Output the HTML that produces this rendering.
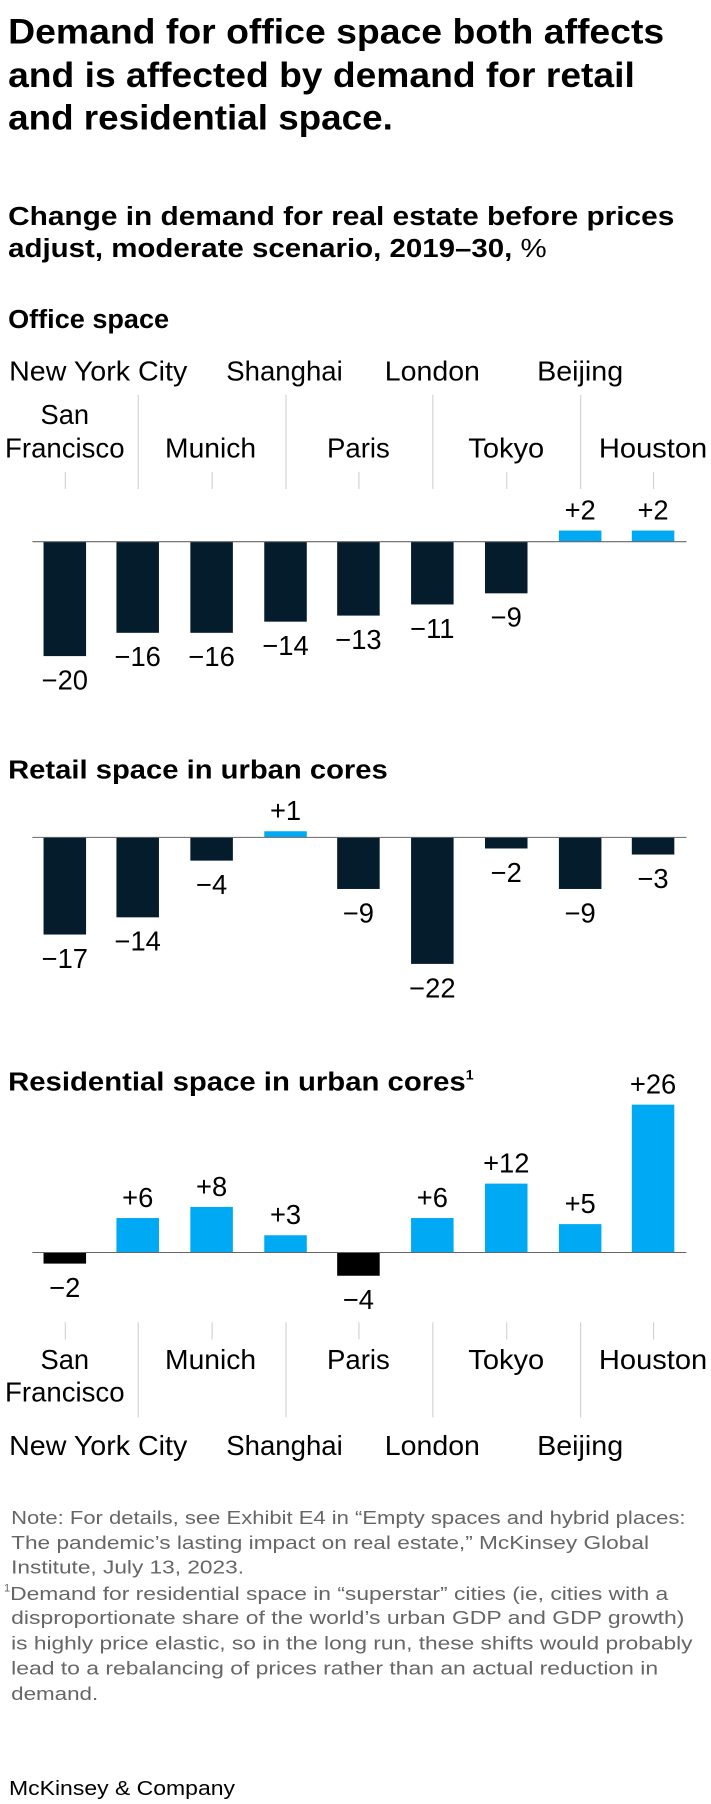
<!DOCTYPE html>
<html><head><meta charset="utf-8"><style>
html,body{margin:0;padding:0;background:#fff;}
svg{display:block;font-family:"Liberation Sans",sans-serif;}
.t{font-weight:bold;font-size:35px;fill:#000;}
.s{font-weight:bold;font-size:26px;fill:#000;}
.h{font-weight:bold;font-size:26px;fill:#000;}
.l{font-size:27px;fill:#000;}
.v{font-size:27px;fill:#000;text-anchor:middle;}
.n{font-size:18.5px;fill:#666;}
</style></head><body>
<svg width="711" height="1804" viewBox="0 0 711 1804" xmlns="http://www.w3.org/2000/svg">
<g transform="scale(1.0125)">
<text class="t" x="8" y="43" textLength="648" lengthAdjust="spacingAndGlyphs">Demand for office space both affects</text>
<text class="t" x="8" y="86" textLength="619" lengthAdjust="spacingAndGlyphs">and is affected by demand for retail</text>
<text class="t" x="8" y="128" textLength="380" lengthAdjust="spacingAndGlyphs">and residential space.</text>
<text class="s" x="8" y="222" textLength="658" lengthAdjust="spacingAndGlyphs">Change in demand for real estate before prices</text>
<text class="s" x="8" y="254" textLength="532" lengthAdjust="spacingAndGlyphs">adjust, moderate scenario, 2019–30, <tspan font-weight="normal">%</tspan></text>

<text class="h" x="8" y="324" textLength="159" lengthAdjust="spacingAndGlyphs">Office space</text>
<g class="l" text-anchor="middle">
<text x="97" y="376" textLength="176" lengthAdjust="spacingAndGlyphs">New York City</text>
<text x="281" y="376" textLength="115" lengthAdjust="spacingAndGlyphs">Shanghai</text>
<text x="427" y="376" textLength="94" lengthAdjust="spacingAndGlyphs">London</text>
<text x="573" y="376" textLength="85" lengthAdjust="spacingAndGlyphs">Beijing</text>
<text x="64" y="419" textLength="48" lengthAdjust="spacingAndGlyphs">San</text>
<text x="64" y="452" textLength="118" lengthAdjust="spacingAndGlyphs">Francisco</text>
<text x="208" y="452" textLength="90" lengthAdjust="spacingAndGlyphs">Munich</text>
<text x="354" y="452" textLength="62" lengthAdjust="spacingAndGlyphs">Paris</text>
<text x="500" y="452" textLength="75" lengthAdjust="spacingAndGlyphs">Tokyo</text>
<text x="645" y="452" textLength="107" lengthAdjust="spacingAndGlyphs">Houston</text>
</g>
<g stroke="#ccc" stroke-width="1">
<line x1="136.5" y1="390" x2="136.5" y2="483"/><line x1="282.5" y1="390" x2="282.5" y2="483"/>
<line x1="427.5" y1="390" x2="427.5" y2="483"/><line x1="573.5" y1="390" x2="573.5" y2="483"/>
<line x1="64.5" y1="466" x2="64.5" y2="483"/><line x1="209.5" y1="466" x2="209.5" y2="483"/>
<line x1="354.5" y1="466" x2="354.5" y2="483"/><line x1="500.5" y1="466" x2="500.5" y2="483"/>
<line x1="645.5" y1="466" x2="645.5" y2="483"/>
</g>
<g fill="#051c2c">
<rect x="43" y="535" width="42" height="113"/>
<rect x="115" y="535" width="42" height="90"/>
<rect x="188" y="535" width="42" height="90"/>
<rect x="261" y="535" width="42" height="79"/>
<rect x="333" y="535" width="42" height="73"/>
<rect x="406" y="535" width="42" height="62"/>
<rect x="479" y="535" width="42" height="51"/>
</g>
<g fill="#00a9f4">
<rect x="552" y="524" width="42" height="11"/>
<rect x="624" y="524" width="42" height="11"/>
</g>
<line x1="32" y1="535" x2="678" y2="535" stroke="#666" stroke-width="1"/>
<g class="v">
<text x="64" y="681">−20</text><text x="136" y="658">−16</text><text x="209" y="658">−16</text>
<text x="282" y="647">−14</text><text x="354" y="641">−13</text><text x="427" y="630">−11</text>
<text x="500" y="619">−9</text><text x="573" y="513">+2</text><text x="645" y="513">+2</text>
</g>

<text class="h" x="8" y="769" textLength="375" lengthAdjust="spacingAndGlyphs">Retail space in urban cores</text>
<g fill="#051c2c">
<rect x="43" y="827" width="42" height="96"/>
<rect x="115" y="827" width="42" height="79"/>
<rect x="188" y="827" width="42" height="23"/>
<rect x="333" y="827" width="42" height="51"/>
<rect x="406" y="827" width="42" height="125"/>
<rect x="479" y="827" width="42" height="11"/>
<rect x="552" y="827" width="42" height="51"/>
<rect x="624" y="827" width="42" height="17"/>
</g>
<rect x="261" y="821" width="42" height="6" fill="#00a9f4"/>
<line x1="32" y1="827" x2="678" y2="827" stroke="#666" stroke-width="1"/>
<g class="v">
<text x="64" y="956">−17</text><text x="136" y="939">−14</text><text x="209" y="883">−4</text>
<text x="282" y="810">+1</text><text x="354" y="911">−9</text><text x="427" y="985">−22</text>
<text x="500" y="871">−2</text><text x="573" y="911">−9</text><text x="645" y="877">−3</text>
</g>

<text class="h" x="8" y="1077"><tspan textLength="452" lengthAdjust="spacingAndGlyphs">Residential space in urban cores</tspan><tspan font-size="14" dy="-11">1</tspan></text>
<g fill="#00a9f4">
<rect x="115" y="1203" width="42" height="34"/>
<rect x="188" y="1192" width="42" height="45"/>
<rect x="261" y="1220" width="42" height="17"/>
<rect x="406" y="1203" width="42" height="34"/>
<rect x="479" y="1169" width="42" height="68"/>
<rect x="552" y="1209" width="42" height="28"/>
<rect x="624" y="1091" width="42" height="146"/>
</g>
<g fill="#000">
<rect x="43" y="1237" width="42" height="11"/>
<rect x="333" y="1237" width="42" height="23"/>
</g>
<line x1="32" y1="1237" x2="678" y2="1237" stroke="#666" stroke-width="1"/>
<g class="v">
<text x="64" y="1281">−2</text><text x="136" y="1192">+6</text><text x="209" y="1181">+8</text>
<text x="282" y="1209">+3</text><text x="354" y="1293">−4</text><text x="427" y="1192">+6</text>
<text x="500" y="1158">+12</text><text x="573" y="1198">+5</text><text x="645" y="1080">+26</text>
</g>
<g stroke="#ccc" stroke-width="1">
<line x1="136.5" y1="1306" x2="136.5" y2="1400"/><line x1="282.5" y1="1306" x2="282.5" y2="1400"/>
<line x1="427.5" y1="1306" x2="427.5" y2="1400"/><line x1="573.5" y1="1306" x2="573.5" y2="1400"/>
<line x1="64.5" y1="1306" x2="64.5" y2="1323"/><line x1="209.5" y1="1306" x2="209.5" y2="1323"/>
<line x1="354.5" y1="1306" x2="354.5" y2="1323"/><line x1="500.5" y1="1306" x2="500.5" y2="1323"/>
<line x1="645.5" y1="1306" x2="645.5" y2="1323"/>
</g>
<g class="l" text-anchor="middle">
<text x="64" y="1352" textLength="48" lengthAdjust="spacingAndGlyphs">San</text>
<text x="64" y="1384" textLength="118" lengthAdjust="spacingAndGlyphs">Francisco</text>
<text x="208" y="1352" textLength="90" lengthAdjust="spacingAndGlyphs">Munich</text>
<text x="354" y="1352" textLength="62" lengthAdjust="spacingAndGlyphs">Paris</text>
<text x="500" y="1352" textLength="75" lengthAdjust="spacingAndGlyphs">Tokyo</text>
<text x="645" y="1352" textLength="107" lengthAdjust="spacingAndGlyphs">Houston</text>
<text x="97" y="1437" textLength="176" lengthAdjust="spacingAndGlyphs">New York City</text>
<text x="281" y="1437" textLength="115" lengthAdjust="spacingAndGlyphs">Shanghai</text>
<text x="427" y="1437" textLength="94" lengthAdjust="spacingAndGlyphs">London</text>
<text x="573" y="1437" textLength="85" lengthAdjust="spacingAndGlyphs">Beijing</text>
</g>

<g class="n">
<text x="11" y="1505" textLength="666" lengthAdjust="spacingAndGlyphs">Note: For details, see Exhibit E4 in “Empty spaces and hybrid places:</text>
<text x="11" y="1530" textLength="630" lengthAdjust="spacingAndGlyphs">The pandemic’s lasting impact on real estate,” McKinsey Global</text>
<text x="11" y="1554" textLength="230" lengthAdjust="spacingAndGlyphs">Institute, July 13, 2023.</text>
<text x="4" y="1572" font-size="11">1</text>
<text x="10" y="1580" textLength="650" lengthAdjust="spacingAndGlyphs">Demand for residential space in “superstar” cities (ie, cities with a</text>
<text x="11" y="1604" textLength="665" lengthAdjust="spacingAndGlyphs">disproportionate share of the world’s urban GDP and GDP growth)</text>
<text x="11" y="1629" textLength="673" lengthAdjust="spacingAndGlyphs">is highly price elastic, so in the long run, these shifts would probably</text>
<text x="11" y="1654" textLength="639" lengthAdjust="spacingAndGlyphs">lead to a rebalancing of prices rather than an actual reduction in</text>
<text x="11" y="1679" textLength="86" lengthAdjust="spacingAndGlyphs">demand.</text>
</g>
</g>
<text x="9" y="1795" font-size="20" fill="#000" textLength="226" lengthAdjust="spacingAndGlyphs">McKinsey &amp; Company</text>
</svg>
</body></html>
